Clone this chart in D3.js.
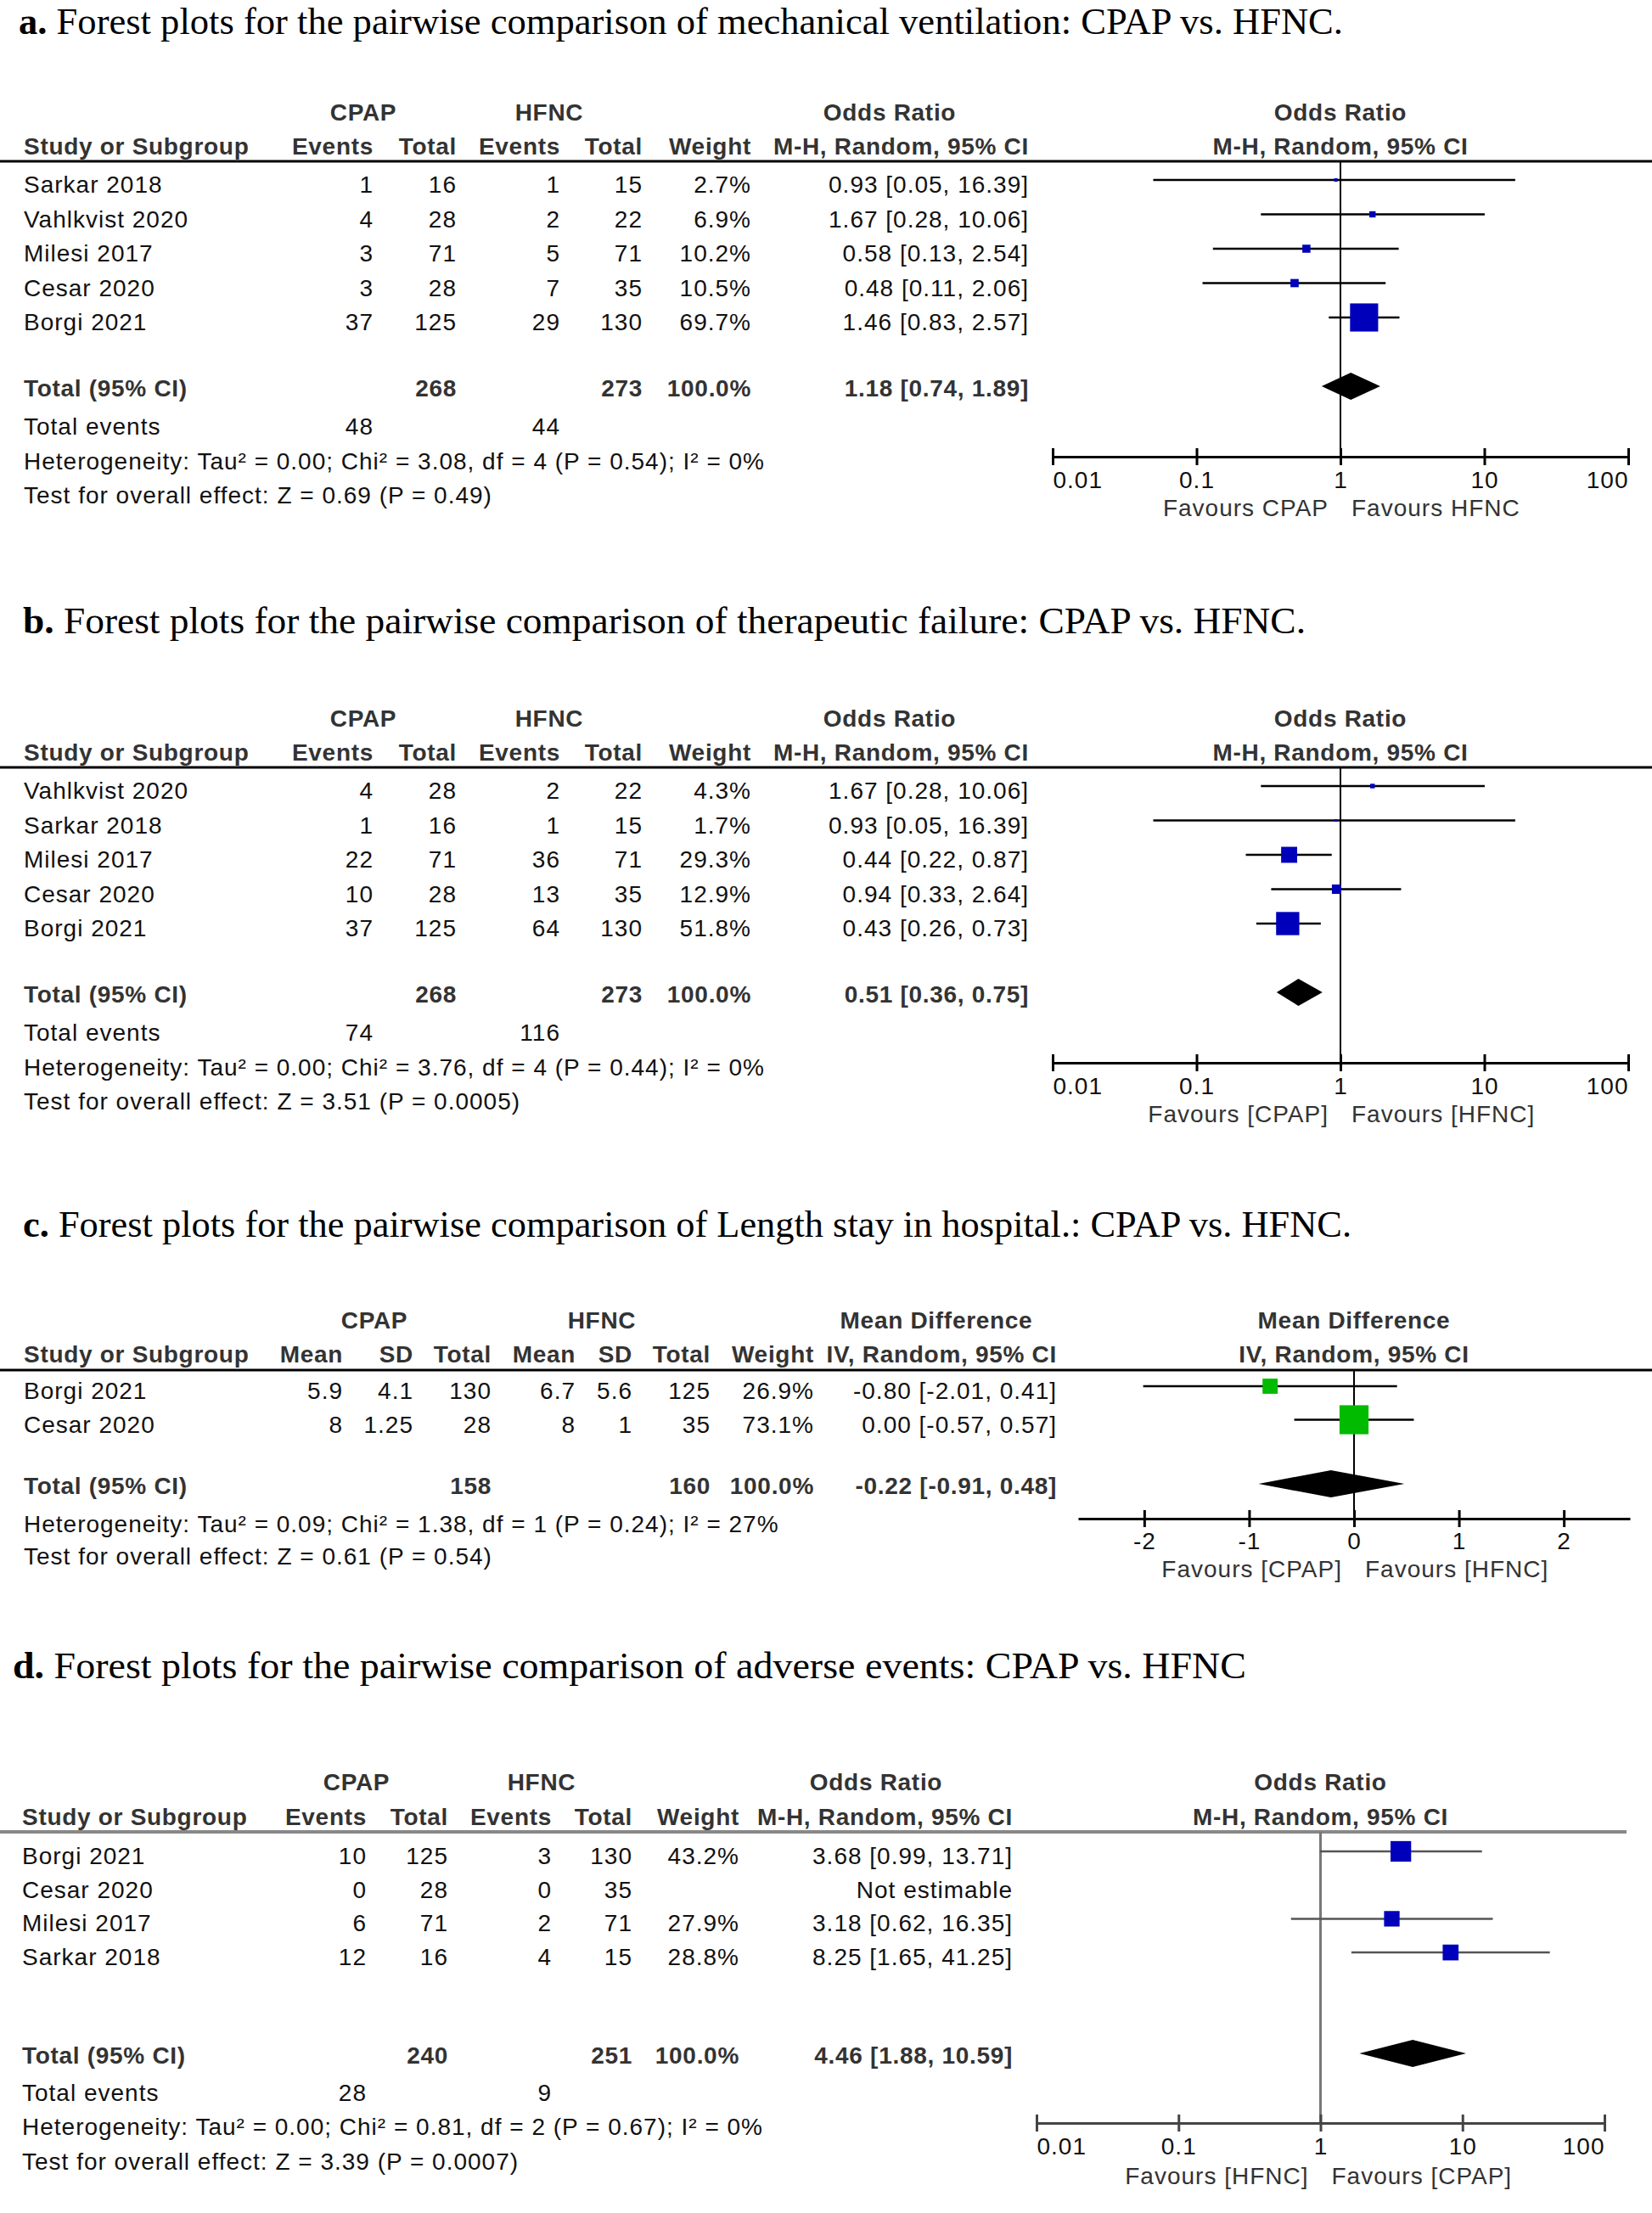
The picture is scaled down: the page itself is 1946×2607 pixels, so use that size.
<!DOCTYPE html>
<html>
<head>
<meta charset="utf-8">
<script src="https://cdn.jsdelivr.net/npm/d3@7"></script>
<style>
body { margin: 0; background: #fff; }
text { font-family: "Liberation Sans", Arial, sans-serif; }
.title { font-family: "Liberation Serif", "Times New Roman", serif; font-size: 44px; fill: #000; letter-spacing: 0; }
.reg { font-size: 28px; fill: #111; letter-spacing: 1px; }
.hdr { font-size: 28px; font-weight: bold; fill: #333; letter-spacing: 0.7px; }
.fav { font-size: 28px; fill: #333; letter-spacing: 1px; }
</style>
</head>
<body>
<script>
var width = 1946;
var height = 2607;

// ---- a. mechanical ventilation
var studiesA = ["Sarkar 2018", "Vahlkvist 2020", "Milesi 2017", "Cesar 2020", "Borgi 2021"];
var cpapEventsA = [1, 4, 3, 3, 37];
var cpapTotalA = [16, 28, 71, 28, 125];
var hfncEventsA = [1, 2, 5, 7, 29];
var hfncTotalA = [15, 22, 71, 35, 130];
var weightA = [2.7, 6.9, 10.2, 10.5, 69.7];
var orA = [0.93, 1.67, 0.58, 0.48, 1.46];
var lowA = [0.05, 0.28, 0.13, 0.11, 0.83];
var highA = [16.39, 10.06, 2.54, 2.06, 2.57];
var totalA = { cpap: 268, hfnc: 273, est: 1.18, low: 0.74, high: 1.89, cpapEvents: 48, hfncEvents: 44 };
var hetA = "Heterogeneity: Tau² = 0.00; Chi² = 3.08, df = 4 (P = 0.54); I² = 0%";
var testA = "Test for overall effect: Z = 0.69 (P = 0.49)";

// ---- b. therapeutic failure
var studiesB = ["Vahlkvist 2020", "Sarkar 2018", "Milesi 2017", "Cesar 2020", "Borgi 2021"];
var cpapEventsB = [4, 1, 22, 10, 37];
var cpapTotalB = [28, 16, 71, 28, 125];
var hfncEventsB = [2, 1, 36, 13, 64];
var hfncTotalB = [22, 15, 71, 35, 130];
var weightB = [4.3, 1.7, 29.3, 12.9, 51.8];
var orB = [1.67, 0.93, 0.44, 0.94, 0.43];
var lowB = [0.28, 0.05, 0.22, 0.33, 0.26];
var highB = [10.06, 16.39, 0.87, 2.64, 0.73];
var totalB = { cpap: 268, hfnc: 273, est: 0.51, low: 0.36, high: 0.75, cpapEvents: 74, hfncEvents: 116 };
var hetB = "Heterogeneity: Tau² = 0.00; Chi² = 3.76, df = 4 (P = 0.44); I² = 0%";
var testB = "Test for overall effect: Z = 3.51 (P = 0.0005)";

// ---- c. length of stay
var studiesC = ["Borgi 2021", "Cesar 2020"];
var cpapMeanC = [5.9, 8];
var cpapSdC = [4.1, 1.25];
var cpapTotalC = [130, 28];
var hfncMeanC = [6.7, 8];
var hfncSdC = [5.6, 1];
var hfncTotalC = [125, 35];
var weightC = [26.9, 73.1];
var mdC = [-0.80, 0.00];
var lowC = [-2.01, -0.57];
var highC = [0.41, 0.57];
var totalC = { cpap: 158, hfnc: 160, est: -0.22, low: -0.91, high: 0.48 };
var hetC = "Heterogeneity: Tau² = 0.09; Chi² = 1.38, df = 1 (P = 0.24); I² = 27%";
var testC = "Test for overall effect: Z = 0.61 (P = 0.54)";

// ---- d. adverse events
var studiesD = ["Borgi 2021", "Cesar 2020", "Milesi 2017", "Sarkar 2018"];
var cpapEventsD = [10, 0, 6, 12];
var cpapTotalD = [125, 28, 71, 16];
var hfncEventsD = [3, 0, 2, 4];
var hfncTotalD = [130, 35, 71, 15];
var weightD = [43.2, null, 27.9, 28.8];
var orD = [3.68, null, 3.18, 8.25];
var lowD = [0.99, null, 0.62, 1.65];
var highD = [13.71, null, 16.35, 41.25];
var totalD = { cpap: 240, hfnc: 251, est: 4.46, low: 1.88, high: 10.59, cpapEvents: 28, hfncEvents: 9 };
var hetD = "Heterogeneity: Tau² = 0.00; Chi² = 0.81, df = 2 (P = 0.67); I² = 0%";
var testD = "Test for overall effect: Z = 3.39 (P = 0.0007)";

var orTicks = [0.01, 0.1, 1, 10, 100];
var mdTicks = [-2, -1, 0, 1, 2];

var svg = d3.select("body")
    .append("svg")
    .attr("width", width)
    .attr("height", height)
    .style("background", "#fff");

// box size grows a bit faster than sqrt(weight)
var boxSize = d3.scalePow().exponent(0.65).domain([0, 100]).range([0, 2.1 * Math.pow(100, 0.65)]);

function ci(e, l, h) {
    if (e == null) return "Not estimable";
    return e.toFixed(2) + " [" + l.toFixed(2) + ", " + h.toFixed(2) + "]";
}
function pct(w) { return w == null ? "" : w.toFixed(1) + "%"; }

function label(g, x, y, s, anchor, cls) {
    return g.append("text")
        .attr("x", x)
        .attr("y", y)
        .attr("text-anchor", anchor || "end")
        .attr("class", cls || "reg")
        .text(s);
}

function drawPanel(p) {
    var g = svg.append("g");
    var y = p.y;

    var t = g.append("text").attr("class", "title")
        .attr("x", p.titleX).attr("y", y.title)
        .attr("textLength", p.titleW).attr("lengthAdjust", "spacingAndGlyphs");
    t.append("tspan").attr("font-weight", "bold").text(p.letter + ". ");
    t.append("tspan").text(p.title);

    // column headers
    p.head1.forEach(function(h) { label(g, h[1], y.h1, h[0], "middle", "hdr"); });
    label(g, p.left, y.h2, "Study or Subgroup", "start", "hdr");
    p.cols.forEach(function(c) { label(g, c.x, y.h2, c.name, "end", "hdr"); });
    label(g, p.ciX, y.h2, p.ciName, "end", "hdr");
    label(g, p.x(p.nullValue), y.h1, p.effName, "middle", "hdr");
    label(g, p.x(p.nullValue), y.h2, p.ciName, "middle", "hdr");

    g.append("line")
        .attr("x1", 0).attr("x2", p.lineEnd)
        .attr("y1", y.line).attr("y2", y.line)
        .attr("stroke", p.ruleColor).attr("stroke-width", p.ruleWidth);

    // study rows
    p.studies.forEach(function(s, i) {
        var by = y.row0 + i * y.step;
        label(g, p.left, by, s, "start");
        p.cols.forEach(function(c) {
            var v = c.vals[i];
            label(g, c.x, by, c.f ? c.f(v) : String(v));
        });
        label(g, p.ciX, by, ci(p.est[i], p.low[i], p.high[i]));
    });

    // totals
    label(g, p.left, y.total, "Total (95% CI)", "start", "hdr");
    p.totalCols.forEach(function(c) { label(g, c[1], y.total, c[0], "end", "hdr"); });
    label(g, p.ciX, y.total, ci(p.total.est, p.total.low, p.total.high), "end", "hdr");
    if (y.events) {
        label(g, p.left, y.events, "Total events", "start");
        label(g, p.eventsX[0], y.events, String(p.total.cpapEvents));
        label(g, p.eventsX[1], y.events, String(p.total.hfncEvents));
    }
    label(g, p.left, y.het, p.het, "start");
    label(g, p.left, y.test, p.test, "start");

    // plot: line of no effect
    g.append("line")
        .attr("x1", p.x(p.nullValue)).attr("x2", p.x(p.nullValue))
        .attr("y1", y.line).attr("y2", y.axis)
        .attr("stroke", p.nullColor).attr("stroke-width", p.nullWidth);

    var marks = g.append("g");
    p.studies.forEach(function(s, i) {
        if (p.est[i] == null) return;
        var cy = y.row0 + i * y.step - 15;
        marks.append("line")
            .attr("x1", p.x(p.low[i])).attr("x2", p.x(p.high[i]))
            .attr("y1", cy).attr("y2", cy)
            .attr("stroke", p.ciColor).attr("stroke-width", 2.5);
        var sz = boxSize(p.weight[i]);
        marks.append("rect")
            .attr("x", p.x(p.est[i]) - sz / 2).attr("y", cy - sz / 2)
            .attr("width", sz).attr("height", sz)
            .attr("fill", p.boxColor);
    });

    var dy = y.total - 12;
    var dpath = d3.path();
    dpath.moveTo(p.x(p.total.low), dy);
    dpath.lineTo(p.x(p.total.est), dy - 16);
    dpath.lineTo(p.x(p.total.high), dy);
    dpath.lineTo(p.x(p.total.est), dy + 16);
    dpath.closePath();
    marks.append("path").attr("d", dpath.toString()).attr("fill", "#000");

    // axis
    var axis = d3.axisBottom(p.x)
        .tickValues(p.ticks)
        .tickFormat(function(d) { return String(d); })
        .tickSizeInner(10)
        .tickSizeOuter(0);
    var ga = g.append("g")
        .attr("transform", "translate(0," + y.axis + ")")
        .call(axis)
        .attr("font-size", null)
        .attr("font-family", null);
    ga.select(".domain").attr("stroke", p.axisColor).attr("stroke-width", 3);
    ga.selectAll(".tick line")
        .attr("y1", -10).attr("y2", 10)
        .attr("stroke", p.axisColor).attr("stroke-width", 3);
    var n = p.ticks.length;
    ga.selectAll(".tick text")
        .attr("class", "reg")
        .attr("fill", null)
        .attr("y", y.tick - y.axis)
        .attr("dy", null)
        .attr("text-anchor", function(d, i) {
            if (!p.edgeAlign) return "middle";
            return i === 0 ? "start" : (i === n - 1 ? "end" : "middle");
        });

    label(g, p.x(p.nullValue) - 14, y.fav, p.favL, "end", "fav");
    label(g, p.x(p.nullValue) + 13, y.fav, p.favR, "start", "fav");
}

function eventCols(ev, tot, hev, htot, w, xs) {
    return [
        { name: "Events", vals: ev, x: xs[0] },
        { name: "Total", vals: tot, x: xs[1] },
        { name: "Events", vals: hev, x: xs[2] },
        { name: "Total", vals: htot, x: xs[3] },
        { name: "Weight", vals: w, x: xs[4], f: pct }
    ];
}

var colXab = [440, 538, 660, 757, 885];

function yLayout(off, titleY) {
    return { title: titleY, h1: 142 + off, h2: 182 + off, line: 190 + off, row0: 227 + off, step: 40.5,
        total: 467 + off, events: 512 + off, het: 553 + off, test: 593 + off,
        axis: 538 + off, tick: 575 + off, fav: 608 + off };
}

var xOR = d3.scaleLog().domain([0.01, 100]).range([1240, 1918]);

drawPanel({
    letter: "a", title: "Forest plots for the pairwise comparison of mechanical ventilation: CPAP vs. HFNC.",
    titleX: 22, titleW: 1560, y: yLayout(0, 40), left: 28,
    head1: [["CPAP", 428], ["HFNC", 647], ["Odds Ratio", 1048]],
    cols: eventCols(cpapEventsA, cpapTotalA, hfncEventsA, hfncTotalA, weightA, colXab),
    ciX: 1212, ciName: "M-H, Random, 95% CI", effName: "Odds Ratio",
    studies: studiesA, est: orA, low: lowA, high: highA, weight: weightA,
    total: totalA, totalCols: [[String(totalA.cpap), 538], [String(totalA.hfnc), 757], ["100.0%", 885]],
    eventsX: [440, 660], het: hetA, test: testA,
    x: xOR, nullValue: 1, ticks: orTicks, edgeAlign: true,
    favL: "Favours CPAP", favR: "Favours HFNC",
    lineEnd: width, ruleColor: "#000", ruleWidth: 3, nullColor: "#000", nullWidth: 2,
    ciColor: "#000", axisColor: "#000", boxColor: "#0000BB"
});

drawPanel({
    letter: "b", title: "Forest plots for the pairwise comparison of therapeutic failure: CPAP vs. HFNC.",
    titleX: 27, titleW: 1511, y: yLayout(714, 746), left: 28,
    head1: [["CPAP", 428], ["HFNC", 647], ["Odds Ratio", 1048]],
    cols: eventCols(cpapEventsB, cpapTotalB, hfncEventsB, hfncTotalB, weightB, colXab),
    ciX: 1212, ciName: "M-H, Random, 95% CI", effName: "Odds Ratio",
    studies: studiesB, est: orB, low: lowB, high: highB, weight: weightB,
    total: totalB, totalCols: [[String(totalB.cpap), 538], [String(totalB.hfnc), 757], ["100.0%", 885]],
    eventsX: [440, 660], het: hetB, test: testB,
    x: xOR, nullValue: 1, ticks: orTicks, edgeAlign: true,
    favL: "Favours [CPAP]", favR: "Favours [HFNC]",
    lineEnd: width, ruleColor: "#000", ruleWidth: 3, nullColor: "#000", nullWidth: 2,
    ciColor: "#000", axisColor: "#000", boxColor: "#0000BB"
});

drawPanel({
    letter: "c", title: "Forest plots for the pairwise comparison of Length stay in hospital.: CPAP vs. HFNC.",
    titleX: 27, titleW: 1565,
    y: { title: 1457, h1: 1565, h2: 1605, line: 1614, row0: 1648, step: 39.5,
        total: 1760, het: 1805, test: 1843, axis: 1789, tick: 1825, fav: 1858 },
    left: 28,
    head1: [["CPAP", 441], ["HFNC", 709], ["Mean Difference", 1103]],
    cols: [
        { name: "Mean", vals: cpapMeanC, x: 404 },
        { name: "SD", vals: cpapSdC, x: 487 },
        { name: "Total", vals: cpapTotalC, x: 579 },
        { name: "Mean", vals: hfncMeanC, x: 678 },
        { name: "SD", vals: hfncSdC, x: 745 },
        { name: "Total", vals: hfncTotalC, x: 837 },
        { name: "Weight", vals: weightC, x: 959, f: pct }
    ],
    ciX: 1245, ciName: "IV, Random, 95% CI", effName: "Mean Difference",
    studies: studiesC, est: mdC, low: lowC, high: highC, weight: weightC,
    total: totalC, totalCols: [[String(totalC.cpap), 579], [String(totalC.hfnc), 837], ["100.0%", 959]],
    het: hetC, test: testC,
    x: d3.scaleLinear().domain([-2.63, 2.63]).range([1270, 1920]), nullValue: 0, ticks: mdTicks, edgeAlign: false,
    favL: "Favours [CPAP]", favR: "Favours [HFNC]",
    lineEnd: width, ruleColor: "#000", ruleWidth: 3, nullColor: "#000", nullWidth: 2,
    ciColor: "#000", axisColor: "#000", boxColor: "#00BB00"
});

drawPanel({
    letter: "d", title: "Forest plots for the pairwise comparison of adverse events: CPAP vs. HFNC",
    titleX: 15, titleW: 1453,
    y: { title: 1977, h1: 2109, h2: 2150, line: 2158, row0: 2196, step: 39.7,
        total: 2431, events: 2475, het: 2515, test: 2556, axis: 2501, tick: 2538, fav: 2573 },
    left: 26,
    head1: [["CPAP", 420], ["HFNC", 638], ["Odds Ratio", 1032]],
    cols: eventCols(cpapEventsD, cpapTotalD, hfncEventsD, hfncTotalD, weightD, [432, 528, 650, 745, 871]),
    ciX: 1193, ciName: "M-H, Random, 95% CI", effName: "Odds Ratio",
    studies: studiesD, est: orD, low: lowD, high: highD, weight: weightD,
    total: totalD, totalCols: [[String(totalD.cpap), 528], [String(totalD.hfnc), 745], ["100.0%", 871]],
    eventsX: [432, 650], het: hetD, test: testD,
    x: d3.scaleLog().domain([0.01, 100]).range([1221, 1890]), nullValue: 1, ticks: orTicks, edgeAlign: true,
    favL: "Favours [HFNC]", favR: "Favours [CPAP]",
    lineEnd: 1916, ruleColor: "#888", ruleWidth: 4, nullColor: "#777", nullWidth: 3,
    ciColor: "#555", axisColor: "#444", boxColor: "#0000BB"
});
</script>
</body>
</html>
